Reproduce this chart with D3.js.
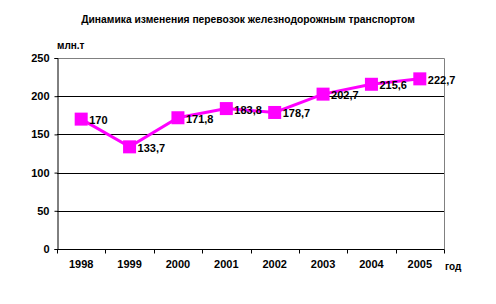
<!DOCTYPE html>
<html>
<head>
<meta charset="utf-8">
<script src="https://cdn.jsdelivr.net/npm/d3@7"></script>
<style>
  body { margin: 0; background: #fff; }
  text { font-family: "Liberation Sans", Arial, sans-serif; font-weight: bold; }
</style>
</head>
<body>
<div id="chart"></div>
<script>
// data
var years = ["1998", "1999", "2000", "2001", "2002", "2003", "2004", "2005"];
var volumes = [170, 133.7, 171.8, 183.8, 178.7, 202.7, 215.6, 222.7];
var yTicks = [0, 50, 100, 150, 200, 250];

var w = 496, h = 304;
var margin = { left: 57, right: 52, top: 58, bottom: 55 };

var svg = d3.select("#chart").append("svg")
    .attr("width", w)
    .attr("height", h);

var x = d3.scaleBand().domain(years).range([margin.left, w - margin.right]);
var y = d3.scaleLinear().domain([0, 250]).range([h - margin.bottom, margin.top]);

// title
svg.append("text")
    .attr("x", 248).attr("y", 23)
    .attr("text-anchor", "middle")
    .style("font-size", "10.3px")
    .text("Динамика изменения перевозок железнодорожным транспортом");

// gridlines
svg.append("g").selectAll("line")
    .data(yTicks.filter(function (d) { return d > 0 && d < 250; }))
    .enter().append("line")
    .attr("x1", margin.left).attr("x2", w - margin.right)
    .attr("y1", function (d) { return Math.round(y(d)) + 0.5; })
    .attr("y2", function (d) { return Math.round(y(d)) + 0.5; })
    .attr("stroke", "#000");

// top and right border (grey)
svg.append("path")
    .attr("d", "M" + margin.left + "," + (Math.round(y(250)) + 0.5) +
        "H" + (w - margin.right + 0.5) + "V" + y(0))
    .attr("fill", "none").attr("stroke", "#808080");

// y axis
var yAxis = svg.append("g")
    .attr("transform", "translate(" + (margin.left + 0.5) + ",0)")
    .call(d3.axisLeft(y).tickValues(yTicks).tickSize(3).tickPadding(5));
yAxis.select(".domain").attr("stroke", "#000");
yAxis.selectAll("text").style("font-size", "11px").attr("fill", "#000");

// x axis
var xAxis = svg.append("g")
    .attr("transform", "translate(0," + (Math.round(y(0)) + 0.5) + ")")
    .call(d3.axisBottom(x).tickSize(0).tickPadding(11));
xAxis.select(".domain").remove();
xAxis.append("line")
    .attr("x1", margin.left).attr("x2", w - margin.right + 0.5)
    .attr("stroke", "#000");
xAxis.selectAll("text").style("font-size", "11px").attr("fill", "#000");
xAxis.selectAll(".sep")
    .data(years.concat(["end"]))
    .enter().append("line")
    .attr("class", "sep")
    .attr("x1", function (d, i) { return Math.round(margin.left + i * x.step()) + 0.5; })
    .attr("x2", function (d, i) { return Math.round(margin.left + i * x.step()) + 0.5; })
    .attr("y1", 0).attr("y2", 4)
    .attr("stroke", "#000");

// axis titles
svg.append("text")
    .attr("x", 57).attr("y", 49)
    .style("font-size", "10px")
    .text("млн.т");
svg.append("text")
    .attr("x", 445).attr("y", 270)
    .style("font-size", "10px")
    .text("год");

// line
var cx = function (d, i) { return x(years[i]) + x.bandwidth() / 2; };
var line = d3.line()
    .x(cx)
    .y(function (d) { return y(d); });

svg.append("path")
    .datum(volumes)
    .attr("d", line)
    .attr("fill", "none")
    .attr("stroke", "#ff00ff")
    .attr("stroke-width", 3);

svg.append("g").selectAll("rect")
    .data(volumes)
    .enter().append("rect")
    .attr("x", function (d, i) { return cx(d, i) - 6.5; })
    .attr("y", function (d) { return y(d) - 6.5; })
    .attr("width", 13).attr("height", 13)
    .attr("fill", "#ff00ff");

svg.append("g").selectAll("text")
    .data(volumes)
    .enter().append("text")
    .attr("x", function (d, i) { return cx(d, i) + 8; })
    .attr("y", function (d) { return y(d) + 5; })
    .style("font-size", "11px")
    .text(function (d) { return String(d).replace(".", ","); });
</script>
</body>
</html>
